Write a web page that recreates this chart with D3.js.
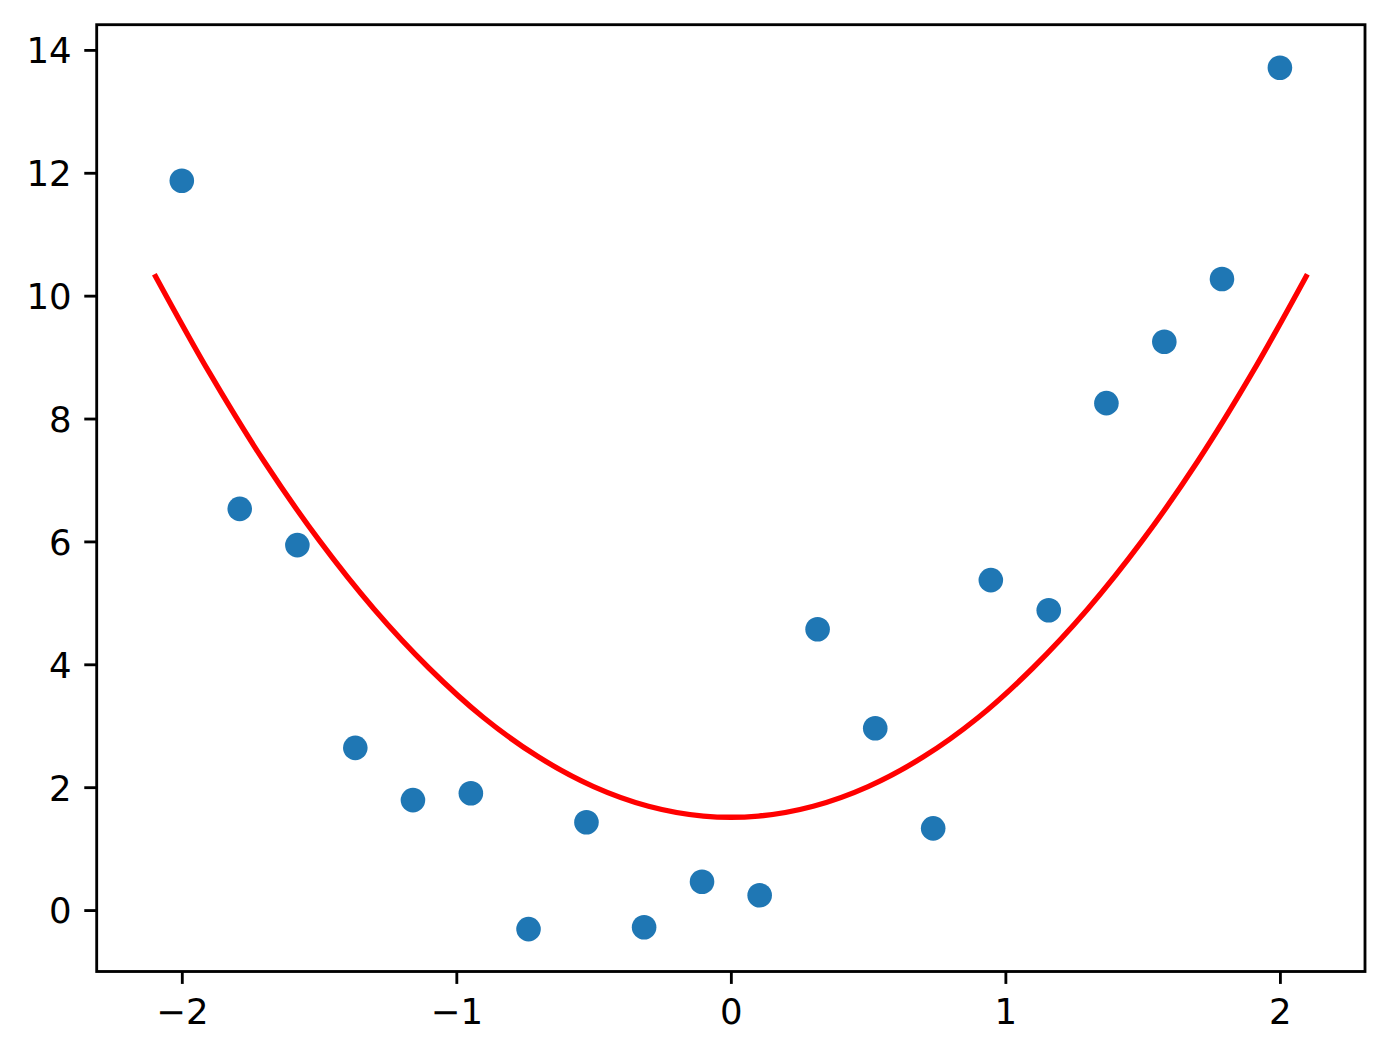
<!DOCTYPE html>
<html>
<head>
<meta charset="utf-8">
<script src="https://cdn.jsdelivr.net/npm/d3@7"></script>
<style>
	html, body { margin: 0; padding: 0; background: #fff; }
	svg { display: block; font-family: "DejaVu Sans", sans-serif; }
</style>
</head>
<body>
<div id="chart"></div>
<script>
// scatter samples
var sampleX = [-2, -1.789, -1.579, -1.368, -1.158, -0.947, -0.737, -0.526, -0.316, -0.105,
	0.105, 0.316, 0.526, 0.737, 0.947, 1.158, 1.368, 1.579, 1.789, 2];
var sampleY = [11.87, 6.53, 5.94, 2.64, 1.79, 1.90, -0.31, 1.43, -0.28, 0.46,
	0.24, 4.57, 2.96, 1.33, 5.37, 4.88, 8.25, 9.25, 10.27, 13.71];

// fitted curve
var curveX = [-2.1, -1.9, -1.7, -1.5, -1.3, -1.1, -0.9, -0.7, -0.5, -0.3, -0.1,
	0.1, 0.3, 0.5, 0.7, 0.9, 1.1, 1.3, 1.5, 1.7, 1.9, 2.1];
var curveY = [10.35, 8.75, 7.30, 6.02, 4.90, 3.94, 3.13, 2.49, 2.01, 1.69, 1.53,
	1.53, 1.69, 2.01, 2.49, 3.13, 3.94, 4.90, 6.02, 7.30, 8.75, 10.35];

var xTicks = [-2, -1, 0, 1, 2];
var yTicks = [0, 2, 4, 6, 8, 10, 12, 14];

(function(){
	var width = 1390, height = 1056;
	var left = 96.7, right = 1365, top = 24.7, bottom = 971.5;
	var pt = 3.55; // px per point

	var svg = d3.select("#chart").append("svg")
		.attr("width", width)
		.attr("height", height);

	var x = d3.scaleLinear().domain([-2.31, 2.31]).range([left, right]);
	var y = d3.scaleLinear().domain([-1.0, 14.41]).range([bottom, top]);

	// points (zorder below the line)
	var pts = sampleX.map(function(v, i){ return [v, sampleY[i]]; });
	svg.append("g").selectAll("circle")
		.data(pts)
		.enter().append("circle")
		.attr("cx", function(d){ return x(d[0]); })
		.attr("cy", function(d){ return y(d[1]); })
		.attr("r", 12.3)
		.attr("fill", "#1f77b4");

	var line = d3.line()
		.x(function(d){ return x(d[0]); })
		.y(function(d){ return y(d[1]); })
		.curve(d3.curveCatmullRom.alpha(0.5));
	svg.append("path")
		.datum(curveX.map(function(v, i){ return [v, curveY[i]]; }))
		.attr("d", line)
		.attr("fill", "none")
		.attr("stroke", "#ff0000")
		.attr("stroke-width", 1.5 * pt);

	// axes
	var fmt = d3.format("d");
	var xAxis = svg.append("g")
		.attr("transform", "translate(0," + bottom + ")")
		.call(d3.axisBottom(x).tickValues(xTicks).tickFormat(fmt).tickSize(3.5 * pt).tickSizeOuter(0));
	var yAxis = svg.append("g")
		.attr("transform", "translate(" + left + ",0)")
		.call(d3.axisLeft(y).tickValues(yTicks).tickFormat(fmt).tickSize(3.5 * pt).tickSizeOuter(0));

	[xAxis, yAxis].forEach(function(g){
		g.select(".domain").remove();
		g.selectAll(".tick line").attr("stroke", "#000").attr("stroke-width", 0.8 * pt);
		g.selectAll(".tick text")
			.attr("fill", "#000")
			.style("font-family", "'DejaVu Sans', sans-serif")
			.style("font-size", "35.5px");
	});
	xAxis.selectAll(".tick text").attr("y", 52.5).attr("dy", null);
	yAxis.selectAll(".tick text").attr("x", -25).attr("dy", "12.9px");

	// frame
	svg.append("rect")
		.attr("x", left)
		.attr("y", top)
		.attr("width", right - left)
		.attr("height", bottom - top)
		.attr("fill", "none")
		.attr("stroke", "#000")
		.attr("stroke-width", 0.8 * pt);
})();
</script>
</body>
</html>
